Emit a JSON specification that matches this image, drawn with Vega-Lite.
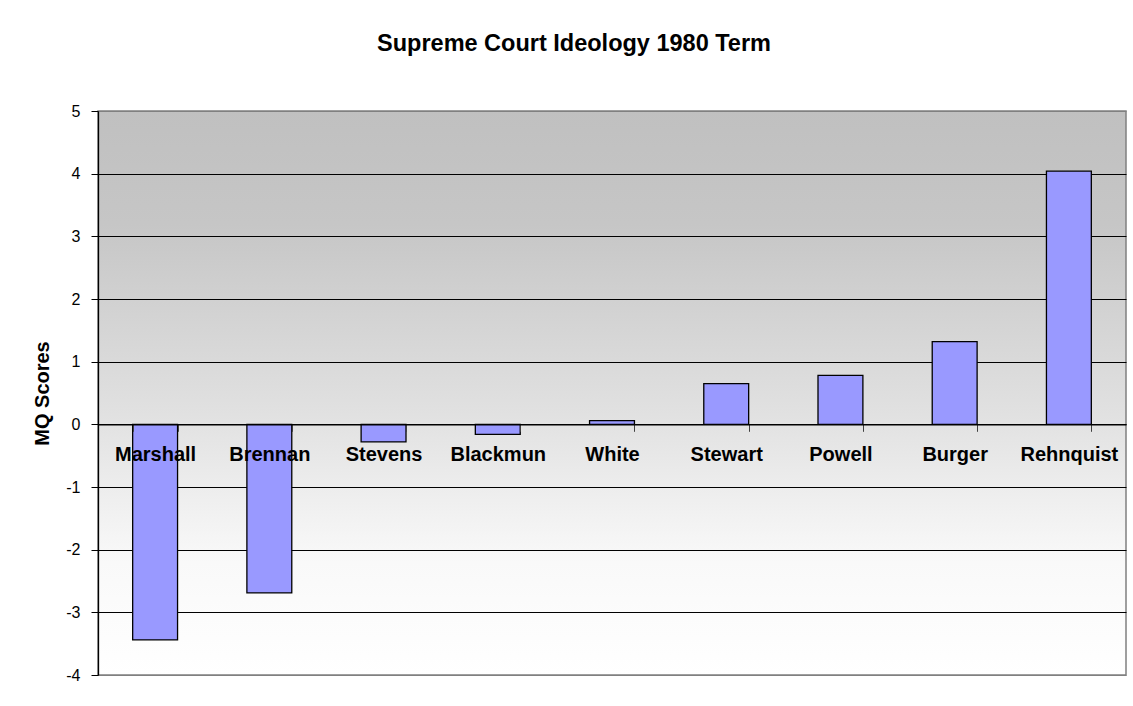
{
  "$schema": "https://vega.github.io/schema/vega-lite/v6.json",
  "width": 1028,
  "height": 564,
  "autosize": {"type": "none"},
  "padding": {"left": 98, "top": 111, "right": 7, "bottom": 31},
  "background": "white",
  "title": {
    "text": "Supreme Court Ideology 1980 Term",
    "font": "Liberation Sans",
    "fontSize": 23.5,
    "fontWeight": "bold",
    "color": "black",
    "anchor": "middle",
    "frame": "group",
    "dx": -38,
    "baseline": "alphabetic",
    "offset": 29
  },
  "data": {
    "values": [
      {"justice": "Marshall", "score": -3.44},
      {"justice": "Brennan", "score": -2.69},
      {"justice": "Stevens", "score": -0.28},
      {"justice": "Blackmun", "score": -0.16},
      {"justice": "White", "score": 0.06},
      {"justice": "Stewart", "score": 0.65},
      {"justice": "Powell", "score": 0.78},
      {"justice": "Burger", "score": 1.32},
      {"justice": "Rehnquist", "score": 4.04}
    ]
  },
  "mark": {"type": "bar", "fill": "#9999ff", "stroke": "black", "strokeWidth": 1.3},
  "encoding": {
    "x": {
      "field": "justice",
      "type": "nominal",
      "sort": null,
      "scale": {"paddingInner": 0.607, "paddingOuter": 0.3035},
      "axis": {
        "title": null,
        "orient": "bottom",
        "offset": -250.7,
        "labelAngle": 0,
        "labelFont": "Liberation Sans",
        "labelFontSize": 20,
        "labelFontWeight": "bold",
        "labelColor": "black",
        "labelPadding": 13,
        "tickBand": "extent",
        "tickSize": 7,
        "tickColor": "#404040",
        "domainColor": "black",
        "domainWidth": 1.3,
        "zindex": 1
      }
    },
    "y": {
      "field": "score",
      "type": "quantitative",
      "scale": {"domain": [-4, 5], "nice": false, "zero": false},
      "axis": {
        "title": "MQ Scores",
        "values": [-4, -3, -2, -1, 0, 1, 2, 3, 4, 5],
        "labelExpr": "'' + datum.value",
        "grid": true,
        "gridColor": {"condition": {"test": "datum.value == 5 || datum.value == -4", "value": "#808080"}, "value": "black"},
        "gridWidth": 1,
        "labelFont": "Liberation Sans",
        "labelFontSize": 16,
        "labelColor": "black",
        "labelPadding": 11,
        "tickSize": 7,
        "tickColor": "black",
        "domainColor": "black",
        "domainWidth": 1.3,
        "titleFont": "Liberation Sans",
        "titleFontSize": 20,
        "titleFontWeight": "bold",
        "titleColor": "black",
        "titleX": -50,
        "titleBaseline": "alphabetic"
      }
    }
  },
  "config": {
    "view": {
      "stroke": "#808080",
      "strokeWidth": 1.5,
      "fill": {
        "gradient": "linear",
        "x1": 0, "y1": 0, "x2": 0, "y2": 1,
        "stops": [
          {"offset": 0, "color": "#c0c0c0"},
          {"offset": 0.2, "color": "#c6c6c6"},
          {"offset": 0.55, "color": "#e2e2e2"},
          {"offset": 0.8, "color": "#f9f9f9"},
          {"offset": 1, "color": "#ffffff"}
        ]
      }
    }
  }
}
